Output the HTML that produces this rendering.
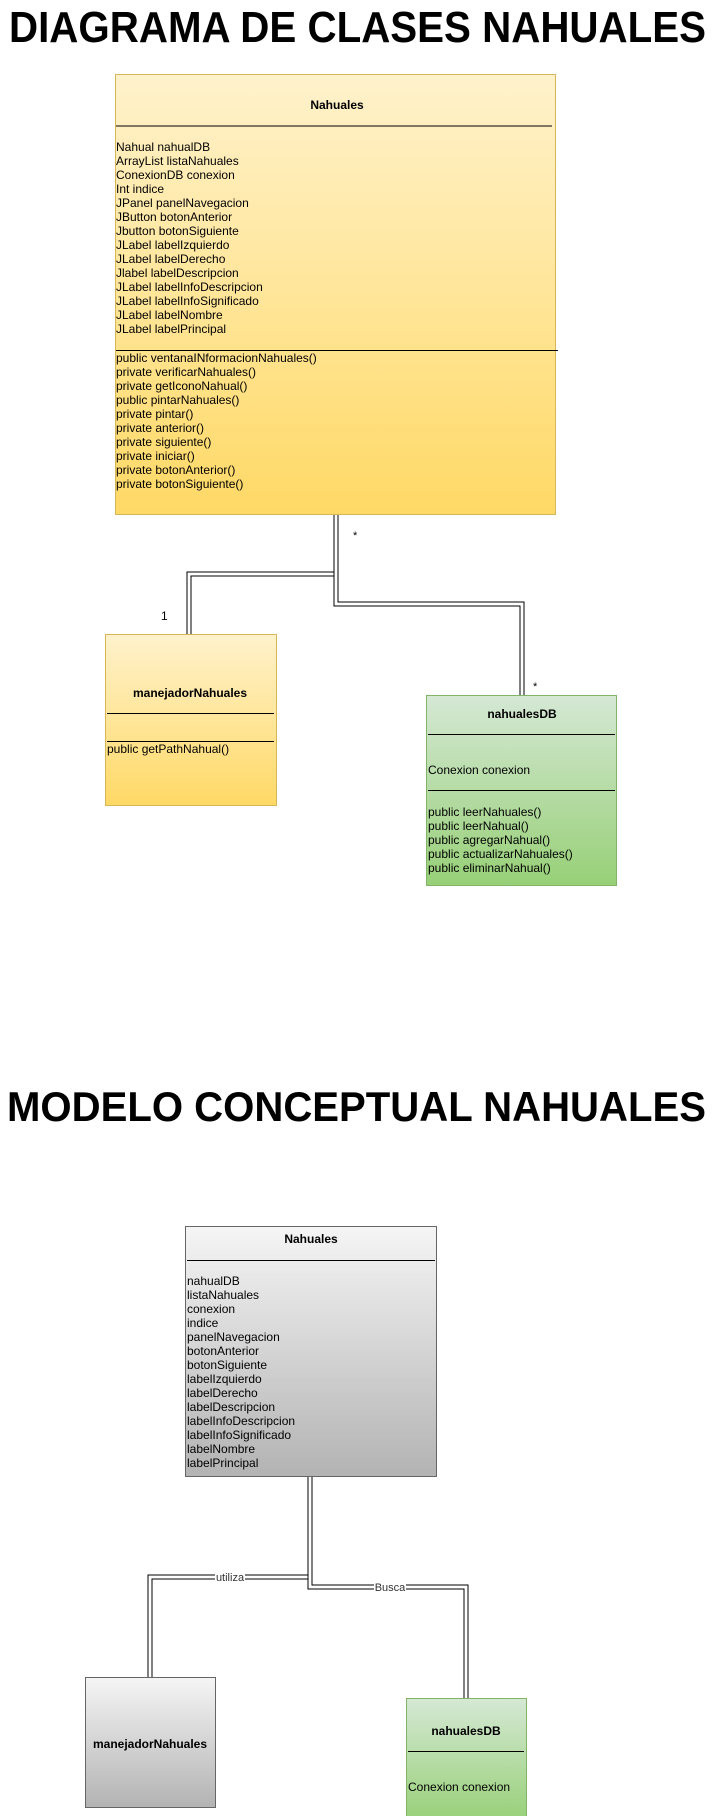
<!DOCTYPE html>
<html><head><meta charset="utf-8"><style>
html,body{margin:0;padding:0;background:#fff;}
svg{display:block;font-family:"Liberation Sans",Arial,sans-serif;}
</style></head><body>
<svg width="712" height="1816" viewBox="0 0 712 1816" xmlns="http://www.w3.org/2000/svg">
<defs>
<linearGradient id="y" x1="0" y1="0" x2="0" y2="1"><stop offset="0" stop-color="#fff2cc"/><stop offset="1" stop-color="#ffd966"/></linearGradient>
<linearGradient id="g" x1="0" y1="0" x2="0" y2="1"><stop offset="0" stop-color="#d5e8d4"/><stop offset="1" stop-color="#97d077"/></linearGradient>
<linearGradient id="k" x1="0" y1="0" x2="0" y2="1"><stop offset="0" stop-color="#f5f5f5"/><stop offset="1" stop-color="#b3b3b3"/></linearGradient>
</defs>

<text x="9" y="42" font-size="44" font-weight="bold" textLength="697" lengthAdjust="spacingAndGlyphs">DIAGRAMA DE CLASES NAHUALES</text>

<g transform="translate(-1,-2)">
<g fill="none">
<path d="M337 517 V576 H190 V637" stroke="#000" stroke-width="5"/>
<path d="M337 517 V576 H190 V637" stroke="#fff" stroke-width="3"/>
<path d="M337 517 V606 H523 V698" stroke="#000" stroke-width="5"/>
<path d="M337 517 V606 H523 V698" stroke="#fff" stroke-width="3"/>
</g>

<rect x="116.5" y="76.5" width="440" height="440" fill="url(#y)" stroke="#d6b656"/>
<text x="338" y="111" font-size="12" font-weight="bold" text-anchor="middle">Nahuales</text>
<line x1="117" y1="128" x2="553" y2="128" stroke="#000"/>
<g font-size="12">
<text x="117" y="153">Nahual nahualDB</text>
<text x="117" y="167">ArrayList listaNahuales</text>
<text x="117" y="181">ConexionDB conexion</text>
<text x="117" y="195">Int indice</text>
<text x="117" y="209">JPanel panelNavegacion</text>
<text x="117" y="223">JButton botonAnterior</text>
<text x="117" y="237">Jbutton botonSiguiente</text>
<text x="117" y="251">JLabel labelIzquierdo</text>
<text x="117" y="265">JLabel labelDerecho</text>
<text x="117" y="279">Jlabel labelDescripcion</text>
<text x="117" y="293">JLabel labelInfoDescripcion</text>
<text x="117" y="307">JLabel labelInfoSignificado</text>
<text x="117" y="321">JLabel labelNombre</text>
<text x="117" y="335">JLabel labelPrincipal</text>
</g>
<line x1="117" y1="352.5" x2="559" y2="352.5" stroke="#000"/>
<g font-size="12">
<text x="117" y="364">public ventanaINformacionNahuales()</text>
<text x="117" y="378">private verificarNahuales()</text>
<text x="117" y="392">private getIconoNahual()</text>
<text x="117" y="406">public pintarNahuales()</text>
<text x="117" y="420">private pintar()</text>
<text x="117" y="434">private anterior()</text>
<text x="117" y="448">private siguiente()</text>
<text x="117" y="462">private iniciar()</text>
<text x="117" y="476">private botonAnterior()</text>
<text x="117" y="490">private botonSiguiente()</text>
</g>
<text x="354" y="541" font-size="11">*</text>
<text x="162" y="622" font-size="12">1</text>
<text x="534" y="692" font-size="11">*</text>
</g>

<g transform="translate(-1,-3)">
<rect x="106.5" y="637.5" width="171" height="171" fill="url(#y)" stroke="#d6b656"/>
<text x="191" y="700" font-size="12" font-weight="bold" text-anchor="middle">manejadorNahuales</text>
<line x1="108" y1="716.5" x2="275" y2="716.5" stroke="#000"/>
<line x1="108" y1="744.5" x2="275" y2="744.5" stroke="#000"/>
<text x="108" y="756" font-size="12">public getPathNahual()</text>

<rect x="427.5" y="698.5" width="190" height="190" fill="url(#g)" stroke="#82b366"/>
<text x="523" y="721" font-size="12" font-weight="bold" text-anchor="middle">nahualesDB</text>
<line x1="429" y1="737.5" x2="616" y2="737.5" stroke="#000"/>
<text x="429" y="777" font-size="12">Conexion conexion</text>
<line x1="429" y1="793.5" x2="616" y2="793.5" stroke="#000"/>
<g font-size="12">
<text x="429" y="819">public leerNahuales()</text>
<text x="429" y="833">public leerNahual()</text>
<text x="429" y="847">public agregarNahual()</text>
<text x="429" y="861">public actualizarNahuales()</text>
<text x="429" y="875">public eliminarNahual()</text>
</g>
</g>

<text x="7" y="1121" font-size="42" font-weight="bold" textLength="699" lengthAdjust="spacingAndGlyphs">MODELO CONCEPTUAL NAHUALES</text>

<g transform="translate(-1,-4)">
<g fill="none">
<path d="M311 1480 V1581 H151 V1681" stroke="#000" stroke-width="5"/>
<path d="M311 1480 V1581 H151 V1681" stroke="#fff" stroke-width="3"/>
<path d="M311 1480 V1591 H467 V1702" stroke="#000" stroke-width="5"/>
<path d="M311 1480 V1591 H467 V1702" stroke="#fff" stroke-width="3"/>
</g>
<rect x="216" y="1574" width="30" height="13" fill="#fff"/>
<text x="231" y="1585" font-size="11" text-anchor="middle" fill="#333">utiliza</text>
<rect x="375" y="1584" width="32" height="13" fill="#fff"/>
<text x="391" y="1595" font-size="11" text-anchor="middle" fill="#333">Busca</text>

<rect x="186.5" y="1230.5" width="251" height="250" fill="url(#k)" stroke="#666"/>
<text x="312" y="1247" font-size="12" font-weight="bold" text-anchor="middle">Nahuales</text>
<line x1="188" y1="1264.5" x2="436" y2="1264.5" stroke="#000"/>
<g font-size="12">
<text x="188" y="1289">nahualDB</text>
<text x="188" y="1303">listaNahuales</text>
<text x="188" y="1317">conexion</text>
<text x="188" y="1331">indice</text>
<text x="188" y="1345">panelNavegacion</text>
<text x="188" y="1359">botonAnterior</text>
<text x="188" y="1373">botonSiguiente</text>
<text x="188" y="1387">labelIzquierdo</text>
<text x="188" y="1401">labelDerecho</text>
<text x="188" y="1415">labelDescripcion</text>
<text x="188" y="1429">labelInfoDescripcion</text>
<text x="188" y="1443">labelInfoSignificado</text>
<text x="188" y="1457">labelNombre</text>
<text x="188" y="1471">labelPrincipal</text>
</g>

<rect x="86.5" y="1681.5" width="130" height="130" fill="url(#k)" stroke="#666"/>
<text x="151" y="1752" font-size="12" font-weight="bold" text-anchor="middle">manejadorNahuales</text>

<rect x="407.5" y="1702.5" width="120" height="124" fill="url(#g)" stroke="#82b366"/>
<text x="467" y="1739" font-size="12" font-weight="bold" text-anchor="middle">nahualesDB</text>
<line x1="409" y1="1755.5" x2="525" y2="1755.5" stroke="#000"/>
<text x="409" y="1795" font-size="12">Conexion conexion</text>
</g>
</svg>
</body></html>
